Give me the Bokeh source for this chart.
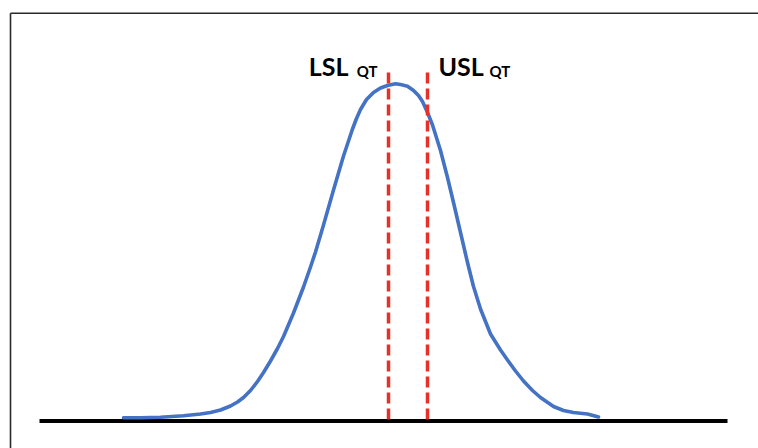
from bokeh.plotting import figure
from bokeh.models import Range1d
from bokeh.core.properties import value
from bokeh.embed import file_html
from bokeh.resources import INLINE

# Distribution curve (x position, height above baseline)
curve_x = [123, 140, 160, 183, 200, 210, 220, 230, 237, 243, 250, 257, 263, 270, 277,
           283, 293, 303, 310, 315, 323, 333, 343, 348, 352, 356, 360, 366, 373, 380,
           387, 395, 400, 407, 413, 418, 422, 427, 432, 440, 447, 453, 460, 467, 473,
           480, 490, 500, 507, 515, 523, 532, 540, 553, 563, 573, 587, 598]
curve_y = [3.2, 3.3, 3.8, 5.2, 7.0, 8.5, 11.0, 15.0, 19.0, 23.5, 30.5, 39.5, 48.5, 60.0, 72.5,
           84.5, 108.0, 134.0, 154.0, 169.0, 196.0, 231.0, 265.0, 280.0, 292.0, 302.5, 311.5, 321.5, 328.5, 333.0,
           335.5, 337.2, 336.5, 334.8, 330.5, 325.5, 319.5, 308.5, 296.0, 270.5, 243.5, 218.5, 188.5, 158.5, 134.5,
           112.0, 87.0, 71.0, 61.0, 50.0, 40.0, 30.5, 23.5, 14.5, 10.5, 8.5, 7.0, 4.0]

# Specification limits
limit_names = ["LSL", "USL"]
limit_sub = ["QT", "QT"]
limit_x = [388, 427]
limit_top = 348.5

# Baseline extent
baseline_x = [39, 727]

# Frame border (left edge, top edge)
frame_left = 10
frame_top = 407.7

p = figure(width=758, height=448, x_range=Range1d(0, 758), y_range=Range1d(-27.5, 420.5),
           min_border=0, toolbar_location=None, output_backend="svg",
           x_axis_location=None, y_axis_location=None)
p.grid.visible = False
p.outline_line_color = None
p.background_fill_color = "white"
p.border_fill_color = "white"

# frame border (left and top visible, others run off the page)
p.segment(x0=[frame_left, frame_left], y0=[frame_top, frame_top],
          x1=[frame_left, 2000], y1=[-200, frame_top],
          line_color="#2b2b2b", line_width=1.6)

# baseline
p.segment(x0=[baseline_x[0]], y0=[0], x1=[baseline_x[1]], y1=[0],
          line_color="black", line_width=4)

# curve
p.line(curve_x, curve_y, line_color="#4472C4", line_width=3.6,
       line_join="round", line_cap="round")

# limit lines
p.segment(x0=limit_x, y0=[limit_top] * 2, x1=limit_x, y1=[0] * 2,
          line_color="#E8302A", line_width=3.5, line_dash="11 5")

font = value("Lato")
# LSL label
p.text(x=[limit_x[0]], y=[355.5], text=[limit_names[0]], text_font=font,
       text_font_style="bold", text_font_size="25px", text_align="right",
       text_baseline="alphabetic", x_offset=-40, text_color="black")
p.text(x=[limit_x[0]], y=[350], text=[limit_sub[0]], text_font=font,
       text_font_style="bold", text_font_size="15px", text_align="right",
       text_baseline="alphabetic", x_offset=-11, text_color="black")
# USL label
p.text(x=[limit_x[1]], y=[355.5], text=[limit_names[1]], text_font=font,
       text_font_style="bold", text_font_size="25px", text_align="left",
       text_baseline="alphabetic", x_offset=11, text_color="black")
p.text(x=[limit_x[1]], y=[350], text=[limit_sub[1]], text_font=font,
       text_font_style="bold", text_font_size="15px", text_align="left",
       text_baseline="alphabetic", x_offset=62, text_color="black")

open("out.html", "w").write(file_html(p, INLINE))
